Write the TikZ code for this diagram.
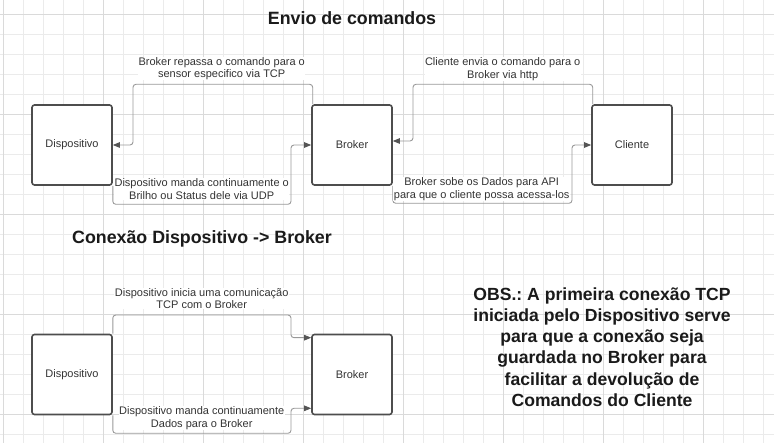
\documentclass[tikz,border=0pt]{standalone}
\usepackage{fontspec}
\setmainfont{Liberation Sans}
\usetikzlibrary{arrows.meta}
\frenchspacing
\definecolor{gridminor}{HTML}{EBEBEB}
\definecolor{gridmajor}{HTML}{DADADA}
\definecolor{boxline}{HTML}{4D4D4D}
\definecolor{connline}{HTML}{999999}
\definecolor{arrowc}{HTML}{555555}
\definecolor{txt}{HTML}{333333}
\definecolor{ttl}{HTML}{1A1A1A}
\tikzset{
  devbox/.style={draw=boxline, line width=1.6pt, rounded corners=2.5pt, fill=white,
    minimum width=80pt, minimum height=80pt, inner sep=0pt,
    font=\fontsize{11}{13}\selectfont, text=txt},
  conn/.style={draw=connline, line width=0.9pt, rounded corners=3pt,
    -{Triangle[length=7pt,width=5.5pt,fill=arrowc,color=arrowc]}},
  lbl/.style={fill=white, inner sep=0.5pt, align=center, text=txt,
    font=\fontsize{11}{12.6}\selectfont},
  ttlstyle/.style={font=\fontsize{17.8}{21}\selectfont\bfseries, text=ttl, inner sep=0pt},
  obsstyle/.style={font=\fontsize{17.6}{21.2}\selectfont\bfseries, text=ttl, align=center, inner sep=0pt}
}
\begin{document}
\begin{tikzpicture}[x=1pt,y=-1pt]
\useasboundingbox (0,0) rectangle (774,443);
\fill[white] (0,0) rectangle (774,443);
% grid
\foreach \gx in {3,23,...,773} {\draw[gridminor, line width=0.8pt] (\gx,0) -- (\gx,443);}
\foreach \gy in {14,34,...,443} {\draw[gridminor, line width=0.8pt] (0,\gy) -- (774,\gy);}
\foreach \gx in {3,103,...,773} {\draw[gridmajor, line width=0.8pt] (\gx,0) -- (\gx,443);}
\foreach \gy in {14,114,...,443} {\draw[gridmajor, line width=0.8pt] (0,\gy) -- (774,\gy);}

% titles
\node[ttlstyle] (t1) at (352,18) {Envio de comandos};
\node[ttlstyle] (t2) at (202,238.5) {Conexão Dispositivo -> Broker};

% top boxes
\node[devbox] (d1) at (72,145) {Dispositivo};
\node[devbox] (b1) at (352,145) {Broker};
\node[devbox] (c1) at (632,145) {Cliente};

% bottom boxes
\node[devbox] (d2) at (72,374.5) {Dispositivo};
\node[devbox] (b2) at (352,374.5) {Broker};

% connectors top
\draw[conn] ([xshift=1.5pt]b1.north west) |- (133,84.3) |- (d1.east);
\draw[conn] (d1.south east) |- (291,204.3) |- (b1.west);
\draw[conn] ([xshift=1.5pt]c1.north west) |- (413,84.3) |- ([yshift=4pt]b1.east);
\draw[conn] (b1.south east) |- (572,203.3) |- (c1.west);

% connectors bottom
\draw[conn] (d2.north east) |- (291,315) |- ([yshift=-4pt]b2.north west);
\draw[conn] (d2.south east) |- (291,433.3) |- ([yshift=7pt]b2.south west);

% labels
\node[lbl] (l1) at (221.7,68.5) {Broker repassa o comando para o\\sensor especifico via TCP};
\node[lbl] (l2) at (201.7,189) {Dispositivo manda continuamente o\\Brilho ou Status dele via UDP};
\node[lbl] (l3) at (502.7,69) {Cliente envia o comando para o\\Broker via http};
\node[lbl] (l4) at (481.7,189) {Broker sobe os Dados para API\\para que o cliente possa acessa-los};
\node[lbl] (l5) at (201.7,298.5) {Dispositivo inicia uma comunicação\\TCP com o Broker};
\node[lbl] (l6) at (201.7,418.3) {Dispositivo manda continuamente\\Dados para o Broker};

% note
\node[obsstyle] (obs) at (602,347) {OBS.: A primeira conexão TCP\\iniciada pelo Dispositivo serve\\para que a conexão seja\\guardada no Broker para\\facilitar a devolução de\\Comandos do Cliente};
\end{tikzpicture}
\end{document}
